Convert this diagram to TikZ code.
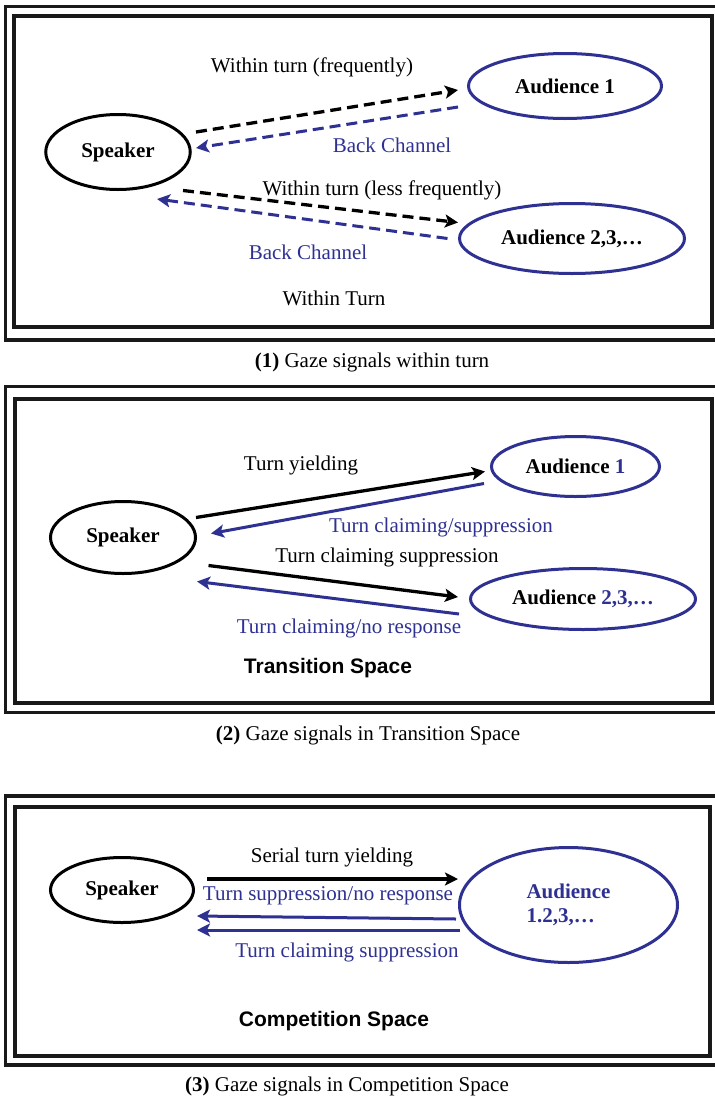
\documentclass[tikz,border=0pt]{standalone}
\usepackage{fontspec}
\setmainfont{Liberation Serif}
\setsansfont{Liberation Sans}
\usetikzlibrary{arrows.meta,shapes.geometric}
\definecolor{navy}{RGB}{46,49,146}
\begin{document}
\begin{tikzpicture}[x=1pt,y=-1pt,
  frameout/.style={draw=black!90, line width=3.5pt},
  framein/.style={draw=black!90, line width=4pt},
  person/.style={ellipse, line width=3pt, inner sep=0pt, font=\fontsize{21}{24}\selectfont\bfseries},
  spkr/.style={person, draw=black},
  aud/.style={person, draw=navy},
  lbl/.style={font=\fontsize{21}{24}\selectfont, inner sep=0pt},
  blbl/.style={lbl, text=navy},
  spacelbl/.style={font=\fontsize{21}{24}\selectfont\sffamily\bfseries, inner sep=0pt},
  gz/.style={draw=black, line width=3.3pt, -{Stealth[length=13pt,width=13pt,inset=3pt]}},
  gzb/.style={gz, draw=navy, line width=3pt},
  dsh/.style={dash pattern=on 11pt off 6pt},
]
\clip (0,0) rectangle (715,1098);
\fill[white] (0,0) rectangle (715,1098);

% ---------- Panel 1 ----------
\draw[frameout] (5.5,6.5) rectangle (722,340);
\draw[framein] (14,15.5) rectangle (711.5,326.5);
\node[spkr, minimum width=144.5pt, minimum height=75pt] (spk1) at (118,152) {Speaker};
\node[aud, minimum width=193pt, minimum height=65pt] (aud1) at (565,86) {Audience 1};
\node[aud, minimum width=225pt, minimum height=70pt] (aud12) at (572,238.5) {Audience 2,3,…};
\draw[gz, dsh] ([shift={(78,-20)}]spk1.center) -- ([shift={(-107,4)}]aud1.center);
\draw[gzb, dsh] ([shift={(-107,21)}]aud1.center) -- ([shift={(78,-4)}]spk1.center);
\draw[gz, dsh] ([shift={(65,38.5)}]spk1.center) -- ([shift={(-114,-16)}]aud12.center);
\draw[gzb, dsh] ([shift={(-124.5,0)}]aud12.center) -- ([shift={(39,47)}]spk1.center);
\node[lbl] (t11) at (312,67) {Within turn (frequently)};
\node[blbl] (t12) at (392,145) {Back Channel};
\node[lbl] (t13) at (382,190) {Within turn (less frequently)};
\node[blbl] (t14) at (308,252) {Back Channel};
\node[lbl] (t15) at (334,298) {Within Turn};
\node[lbl] (cap1) at (372,362) {\textbf{(1)} Gaze signals within turn};

% ---------- Panel 2 ----------
\draw[frameout] (5.5,386.5) rectangle (722,712.5);
\draw[framein] (14.5,398.5) rectangle (711.5,702.5);
\node[spkr, minimum width=145pt, minimum height=72pt] (spk2) at (123,537.5) {Speaker};
\node[aud, minimum width=168pt, minimum height=60pt] (aud21) at (575.5,466.5) {Audience \textcolor{navy}{1}};
\node[aud, minimum width=225pt, minimum height=61pt] (aud22) at (583,599) {Audience \textcolor{navy}{2,3,…}};
\draw[gz] ([shift={(73,-20)}]spk2.center) -- ([shift={(-90.5,5)}]aud21.center);
\draw[gzb] ([shift={(-91.5,17)}]aud21.center) -- ([shift={(88,-4)}]spk2.center);
\draw[gz] ([shift={(85.5,28)}]spk2.center) -- ([shift={(-125,-2)}]aud22.center);
\draw[gzb] ([shift={(-124,15)}]aud22.center) -- ([shift={(74,44)}]spk2.center);
\node[lbl] (t21) at (301,465) {Turn yielding};
\node[blbl] (t22) at (441,527) {Turn claiming/suppression};
\node[lbl] (t23) at (387,557) {Turn claiming suppression};
\node[blbl] (t24) at (349,628) {Turn claiming/no response};
\node[spacelbl] (t25) at (328,668) {Transition Space};
\node[lbl] (cap2) at (368,735) {\textbf{(2)} Gaze signals in Transition Space};

% ---------- Panel 3 ----------
\draw[frameout] (5.5,796) rectangle (722,1065);
\draw[framein] (14.5,807) rectangle (710,1055.5);
\node[spkr, minimum width=143pt, minimum height=65pt] (spk3) at (122,890) {Speaker};
\node[aud, minimum width=218pt, minimum height=115pt, text=navy, align=left] (aud3) at (568.5,905) {Audience\\1.2,3,…};
\draw[gz] ([shift={(85,-11)}]spk3.center) -- ([shift={(-110.5,-26)}]aud3.center);
\draw[gzb] ([shift={(-112.5,14)}]aud3.center) -- ([shift={(75,26)}]spk3.center);
\draw[gzb] ([shift={(-108.5,25)}]aud3.center) -- ([shift={(75,40)}]spk3.center);
\node[lbl] (t31) at (332,857) {Serial turn yielding};
\node[blbl] (t32) at (328,896) {Turn suppression/no response};
\node[blbl] (t33) at (347,952) {Turn claiming suppression};
\node[spacelbl] (t34) at (334,1021) {Competition Space};
\node[lbl] (cap3) at (347,1086) {\textbf{(3)} Gaze signals in Competition Space};
\end{tikzpicture}
\end{document}
